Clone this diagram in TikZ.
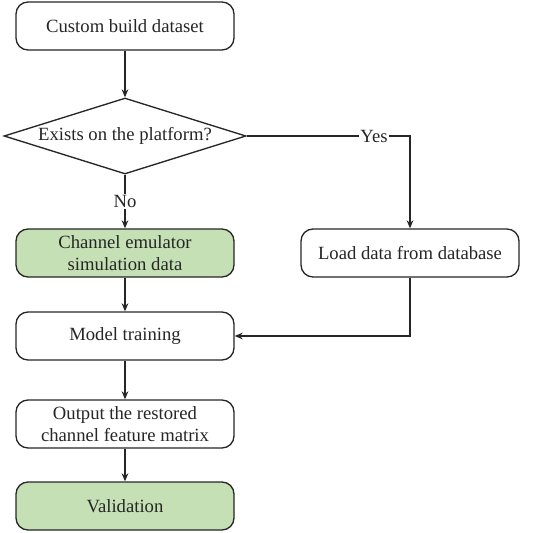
\documentclass[tikz,border=0pt]{standalone}
\usepackage{fontspec}
\setmainfont{Liberation Serif}
\usetikzlibrary{shapes.geometric,arrows.meta,positioning,calc}
\usepackage{xcolor}
\definecolor{fcInk}{HTML}{262626}
\definecolor{fcGreen}{HTML}{C5E0B4}
\tikzset{
  box/.style={draw=fcInk, fill=white, line width=1pt, rounded corners=9pt, minimum width=163.5pt, minimum height=36pt, inner sep=2pt, font=\fontsize{14}{17}\selectfont, align=center, text=fcInk},
  boxG/.style={box, fill=fcGreen},
  dec/.style={diamond, draw=fcInk, fill=white, line width=1pt, aspect=3.2, minimum width=181.5pt, minimum height=57pt, inner sep=0pt, font=\fontsize{14}{17}\selectfont, text=fcInk},
  arr/.style={-{Stealth[length=6pt,width=5pt]}, line width=1pt, draw=fcInk},
  lbl/.style={fill=white, inner sep=1pt, font=\fontsize{14}{17}\selectfont, text=fcInk},
}
\begin{document}
\begin{tikzpicture}[x=0.75pt,y=-0.75pt]
        \useasboundingbox (0,0) rectangle (542,532);
        \node[box] (custom) at (125,26) {Custom build dataset};
        \node[dec] (exists) at (125,136) {Exists on the platform?};
        \node[boxG] (emul) at (125,253) {Channel emulator\\simulation data};
        \node[box] (load) at (410,253) {Load data from database};
        \node[box] (train) at (125,336) {Model training};
        \node[box] (output) at (125,424) {Output the restored\\channel feature matrix};
        \node[boxG] (valid) at (125,506) {Validation};
        \draw[arr] (custom) -- (exists);
        \draw[arr] (exists) -- node[lbl] {No} (emul);
        \draw[arr] (exists.east) -| node[lbl, pos=0.39] {Yes} (load.north);
        \draw[arr] (emul) -- (train);
        \draw[arr] (load.south) |- (train.east);
        \draw[arr] (train) -- (output);
        \draw[arr] (output) -- (valid);
    \end{tikzpicture}
\end{document}
